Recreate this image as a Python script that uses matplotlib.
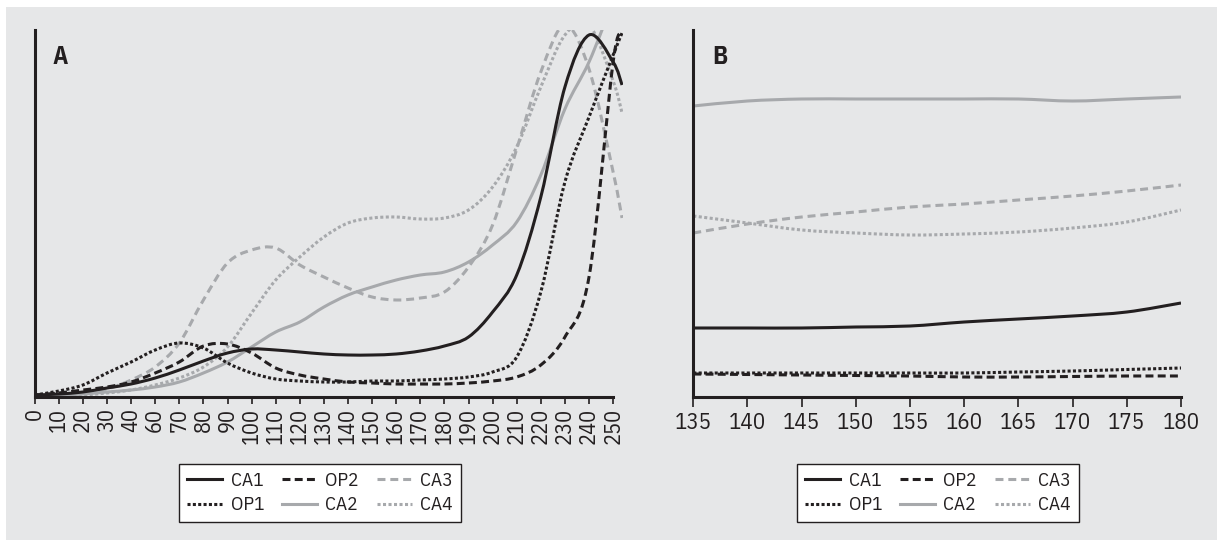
import numpy as np
import matplotlib
matplotlib.use("Agg")
import matplotlib.pyplot as plt
from matplotlib import font_manager
from matplotlib.path import Path
from matplotlib.patches import PathPatch, Rectangle
from matplotlib.lines import Line2D

# condensed sans, the original uses a Helvetica-Condensed like face
_have = {f.name for f in font_manager.fontManager.ttflist}
_cond = [c for c in ['IBM Plex Sans Condensed', 'Roboto Condensed', 'Archivo Narrow']
         if c in _have]
plt.rcParams['font.family'] = _cond[:1] + ['DejaVu Sans']

# ---- data, panel A (category axis, last point runs a bit past 250) ----
a_labels = ['0', '10', '20', '30', '40', '60', '70', '80', '90', '100', '110', '120', '130',
            '140', '150', '160', '170', '180', '190', '200', '210', '220', '230', '240', '250']
a_pos = list(range(len(a_labels))) + [24.37]

a_ca1 = [2, 3, 5, 9, 13, 19, 27, 36, 44, 48, 47, 45, 43, 42, 42, 43, 46, 51, 60, 85, 122, 200, 310, 362, 335, 312]
a_op1 = [2, 6, 12, 24, 35, 47, 54, 49, 34, 24, 18, 16, 15, 15, 16, 16, 17, 18, 20, 25, 40, 105, 215, 280, 342, 364]
a_op2 = [2, 4, 7, 10, 15, 24, 35, 51, 53, 44, 29, 22, 18, 15, 14, 13, 13, 13, 14, 16, 20, 32, 60, 120, 335, 364]
a_ca2 = [1, 2, 3, 5, 7, 10, 15, 24, 35, 50, 65, 75, 90, 102, 110, 117, 122, 125, 135, 152, 175, 222, 288, 335, 395, 410]
a_ca3 = [1, 2, 4, 8, 17, 30, 54, 97, 134, 147, 149, 132, 120, 109, 100, 97, 99, 105, 130, 172, 248, 325, 372, 328, 225, 179]
a_ca4 = [1, 1, 2, 4, 7, 12, 19, 30, 50, 84, 117, 140, 160, 174, 179, 180, 178, 179, 187, 210, 250, 310, 362, 372, 316, 284]

# ---- data, panel B ----
b_x = [135, 140, 145, 150, 155, 160, 165, 170, 175, 180]
b_ca1 = [69, 69, 69, 70, 71, 75, 78, 81, 85, 94]
b_op1 = [24, 24, 24, 24, 24, 24, 25, 26, 27.5, 29]
b_op2 = [23, 22.5, 22, 21.5, 21, 20, 20, 20.5, 21, 21]
b_ca2 = [291, 296, 298, 298, 298, 298, 298, 296, 298, 300]
b_ca3 = [164, 173, 180, 185, 190, 193, 197, 201, 206, 212]
b_ca4 = [181, 174, 167, 164, 162, 163, 165, 169, 175, 187]

BLACK = '#231f20'
GRAY = '#a7a9ac'
BG = '#e6e7e8'
LW = 2.2

styles = {
    'CA1': dict(color=BLACK, ls='-'),
    'OP1': dict(color=BLACK, ls=(0, (1, 0.75))),
    'OP2': dict(color=BLACK, ls=(0, (2.6, 1.4))),
    'CA2': dict(color=GRAY, ls='-'),
    'CA3': dict(color=GRAY, ls=(0, (2.6, 1.6))),
    'CA4': dict(color=GRAY, ls=(0, (1, 0.8))),
}
legend_order = ['CA1', 'OP1', 'OP2', 'CA2', 'CA3', 'CA4']


def smooth_path(xs, ys):
    # smoothed line like the spreadsheet one: cubic bezier through every point
    pts = np.column_stack([xs, ys]).astype(float)
    n = len(pts)
    verts = [pts[0]]
    codes = [Path.MOVETO]
    for i in range(n - 1):
        p0 = pts[max(i - 1, 0)]
        p1 = pts[i]
        p2 = pts[i + 1]
        p3 = pts[min(i + 2, n - 1)]
        verts += [p1 + (p2 - p0) / 6, p2 - (p3 - p1) / 6, p2]
        codes += [Path.CURVE4] * 3
    return Path(verts, codes)


def draw_series(ax, xs, series):
    for name in ['CA2', 'CA3', 'CA4', 'OP2', 'OP1', 'CA1']:
        st = styles[name]
        ax.add_patch(PathPatch(smooth_path(xs, series[name]), fill=False,
                               edgecolor=st['color'], linestyle=st['ls'],
                               linewidth=LW, capstyle='butt', joinstyle='round'))


def style_axes(ax):
    ax.set_facecolor('none')
    for s in ['top', 'right']:
        ax.spines[s].set_visible(False)
    for s in ['left', 'bottom']:
        ax.spines[s].set_color(BLACK)
        ax.spines[s].set_linewidth(2.2)
    ax.set_yticks([])
    ax.tick_params(axis='x', direction='out', length=5, width=1.2, color=BLACK,
                   labelcolor=BLACK, pad=3)
    ax.set_ylim(0, 367)


def add_legend(ax, cx, cy):
    handles = [Line2D([], [], color=styles[n]['color'], linestyle=styles[n]['ls'],
                      linewidth=LW) for n in legend_order]
    leg = ax.legend(handles, legend_order, ncol=3, loc='center',
                    bbox_to_anchor=(cx, cy), bbox_transform=fig.transFigure,
                    frameon=True, fancybox=False, framealpha=1, facecolor='white',
                    edgecolor=BLACK, fontsize=14, handlelength=1.8,
                    handletextpad=0.45, columnspacing=0.9, labelspacing=0.35,
                    borderpad=0.4, borderaxespad=0)
    leg.get_frame().set_linewidth(1.0)
    for t in leg.get_texts():
        t.set_color(BLACK)


W, H = 1217, 540
fig = plt.figure(figsize=(W / 100, H / 100), dpi=100)
fig.patch.set_facecolor('white')
fig.add_artist(Rectangle((6 / W, 0), 1 - 6 / W, 1 - 7 / H, transform=fig.transFigure,
                         facecolor=BG, edgecolor='none', zorder=-10))

# panel A
axA = fig.add_axes([34.7 / W, 143 / H, (623 - 34.7) / W, 367 / H])
style_axes(axA)
draw_series(axA, a_pos, {'CA1': a_ca1, 'OP1': a_op1, 'OP2': a_op2,
                         'CA2': a_ca2, 'CA3': a_ca3, 'CA4': a_ca4})
axA.set_xlim(0, 24.41)
axA.spines['bottom'].set_bounds(0, 24)
axA.set_xticks(range(len(a_labels)))
axA.set_xticklabels(a_labels, rotation=90, fontsize=16)
axA.text(52 / W, 1 - 64 / H, 'A', transform=fig.transFigure, fontsize=18,
         fontweight='bold', color=BLACK, va='baseline', ha='left')
add_legend(axA, 320 / W, 1 - 493 / H)

# panel B
axB = fig.add_axes([693.3 / W, 143 / H, (1181 - 693.3) / W, 367 / H])
style_axes(axB)
draw_series(axB, b_x, {'CA1': b_ca1, 'OP1': b_op1, 'OP2': b_op2,
                       'CA2': b_ca2, 'CA3': b_ca3, 'CA4': b_ca4})
axB.set_xlim(135, 180)
axB.set_xticks(b_x)
axB.set_xticklabels([str(v) for v in b_x], fontsize=16.5)
axB.tick_params(axis='x', length=7, pad=4)
axB.text(712 / W, 1 - 64 / H, 'B', transform=fig.transFigure, fontsize=18,
         fontweight='bold', color=BLACK, va='baseline', ha='left')
add_legend(axB, 938 / W, 1 - 493 / H)

fig.savefig('out.png', dpi=100)
